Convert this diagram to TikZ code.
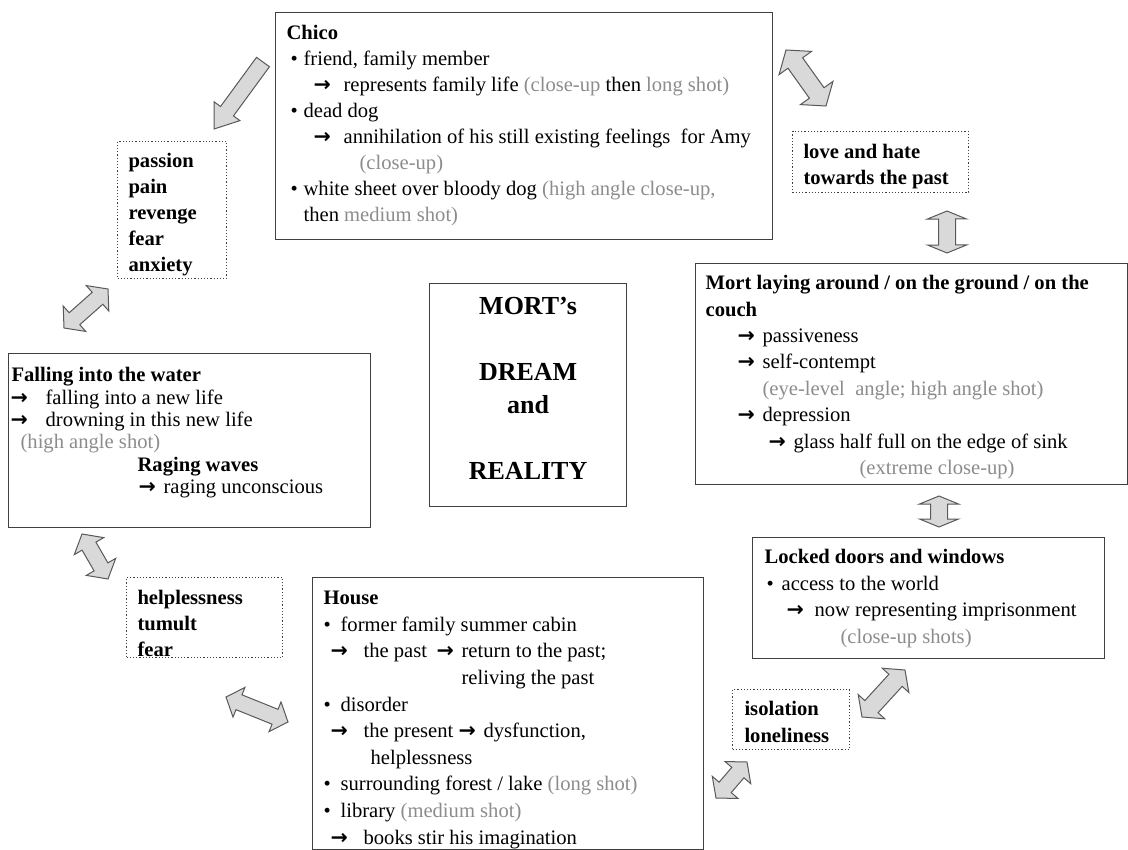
\documentclass[tikz,border=0pt]{standalone}
\usepackage{fontspec}
\setmainfont{Liberation Serif}
\newfontfamily\arrowfont{DejaVu Sans}
\usepackage{tikz}
\usetikzlibrary{calc}

\definecolor{shotgray}{gray}{0.55}
\newcommand\shot[1]{\textcolor{shotgray}{#1}}
\newcommand\rarr[1][12.5pt]{\makebox[#1][l]{\arrowfont\bfseries →}}
\newcommand\itm[1][6.5pt]{\makebox[#1][l]{•}}
\newcommand\txtrow[2]{\par\noindent\hspace*{#1}\strut\mbox{#2}}
% width, height, first baseline, font, rows
\newcommand\boxtext[5]{\begin{minipage}[t][#2][t]{#1}\parskip=0pt#4%
  \vspace*{\dimexpr#3-0.7\baselineskip\relax}#5\end{minipage}}
% block arrows: from, to, head length, head half width, shaft half width (pt)
\newcommand\dblarrow[5]{%
  \draw[blkarrow] let \p1=(#1), \p2=(#2),
    \n1={atan2(\y2-\y1,\x2-\x1)}, \n2={veclen(\x2-\x1,\y2-\y1)},
    \n3={atan(#4/#3)}, \n4={veclen(#3,#4)} in
    (\p1) -- ++({\n1+\n3}:{\n4*1pt}) -- ++({\n1-90}:{(#4-#5)*1pt})
    -- ++({\n1}:{(\n2-2*#3)*1pt}) -- ++({\n1+90}:{(#4-#5)*1pt})
    -- (\p2) -- ++({\n1+180+\n3}:{\n4*1pt}) -- ++({\n1+90}:{(#4-#5)*1pt})
    -- ++({\n1+180}:{(\n2-2*#3)*1pt}) -- ++({\n1-90}:{(#4-#5)*1pt}) -- cycle;}
\newcommand\sglarrow[5]{%
  \draw[blkarrow] let \p1=(#1), \p2=(#2),
    \n1={atan2(\y2-\y1,\x2-\x1)}, \n2={veclen(\x2-\x1,\y2-\y1)},
    \n3={atan(#4/#3)}, \n4={veclen(#3,#4)} in
    (\p1) ++({\n1+90}:{#5*1pt}) -- ++({\n1}:{(\n2-#3)*1pt})
    -- ++({\n1+90}:{(#4-#5)*1pt}) -- (\p2)
    -- ++({\n1+180+\n3}:{\n4*1pt}) -- ++({\n1+90}:{(#4-#5)*1pt})
    -- ++({\n1+180}:{(\n2-#3)*1pt}) -- cycle;}

\begin{document}
\begin{tikzpicture}[x=0.5pt,y=-0.5pt]
\tikzstyle{box}=[draw=black!75, line width=0.6pt, inner sep=0pt, anchor=north west]
\tikzstyle{dotbox}=[box, densely dotted, line width=0.5pt]
\tikzstyle{blkarrow}=[draw=black!65, fill=black!15, line width=0.5pt]
\useasboundingbox (0,0) rectangle (1128,850);

% centre
\node[box] (title) at (429,283) {\boxtext{98.5pt}{111.5pt}{15.5pt}{\fontsize{13}{16.5}\selectfont\bfseries\centering}{%
  \txtrow{0pt}{MORT’s}
  \txtrow{0pt}{}
  \txtrow{0pt}{DREAM}
  \txtrow{0pt}{and}
  \txtrow{0pt}{}
  \txtrow{0pt}{REALITY}}};

% dream side
\node[box] (chico) at (275,12) {\boxtext{248.5pt}{113.5pt}{13.5pt}{\fontsize{10.3}{13}\selectfont}{%
  \txtrow{5.5pt}{\textbf{Chico}}
  \txtrow{7.5pt}{\itm friend, family member}
  \txtrow{19pt}{\rarr[15pt]represents family life \shot{(close-up} then \shot{long shot)}}
  \txtrow{7.5pt}{\itm dead dog}
  \txtrow{19pt}{\rarr[15pt]annihilation of his still existing feelings\ \ for Amy}
  \txtrow{42pt}{\shot{(close-up)}}
  \txtrow{7.5pt}{\itm white sheet over bloody dog \shot{(high angle close-up,}}
  \txtrow{14pt}{then \shot{medium shot)}}}};
\node[dotbox] (passion) at (117,141) {\boxtext{54.5pt}{68.5pt}{13pt}{\fontsize{10.3}{13}\selectfont\bfseries}{%
  \txtrow{5.5pt}{passion}
  \txtrow{5.5pt}{pain}
  \txtrow{5.5pt}{revenge}
  \txtrow{5.5pt}{fear}
  \txtrow{5.5pt}{anxiety}}};
\node[box] (falling) at (8,353) {\boxtext{181pt}{87pt}{14pt}{\fontsize{10.3}{11.2}\selectfont}{%
  \txtrow{1.5pt}{\textbf{Falling into the water}}
  \txtrow{1pt}{\rarr[17.5pt]falling into a new life}
  \txtrow{1pt}{\rarr[17.5pt]drowning in this new life}
  \txtrow{6pt}{\shot{(high angle shot)}}
  \txtrow{64.5pt}{\textbf{Raging waves}}
  \txtrow{65pt}{\rarr raging unconscious}}};
\node[dotbox] (helpless) at (126,577) {\boxtext{78pt}{40pt}{13.5pt}{\fontsize{10.3}{13}\selectfont\bfseries}{%
  \txtrow{5.5pt}{helplessness}
  \txtrow{5.5pt}{tumult}
  \txtrow{5.5pt}{fear}}};

% reality side
\node[box] (house) at (312,577) {\boxtext{195.5pt}{136pt}{13.5pt}{\fontsize{10.3}{13.3}\selectfont}{%
  \txtrow{5.5pt}{\textbf{House}}
  \txtrow{5.5pt}{\itm[8.5pt]former family summer cabin}
  \txtrow{9pt}{\makebox[53pt][l]{\rarr[16.5pt]the past}\rarr return to the past;}
  \txtrow{74.5pt}{reliving the past}
  \txtrow{5.5pt}{\itm[8.5pt]disorder}
  \txtrow{9pt}{\rarr[16.5pt]the present \rarr dysfunction,}
  \txtrow{29pt}{helplessness}
  \txtrow{5.5pt}{\itm[8.5pt]surrounding forest / lake \shot{(long shot)}}
  \txtrow{5.5pt}{\itm[8.5pt]library \shot{(medium shot)}}
  \txtrow{9pt}{\rarr[16.5pt]books stir his imagination}}};
\node[dotbox] (love) at (792,131) {\boxtext{88pt}{30.5pt}{13.5pt}{\fontsize{10.3}{13}\selectfont\bfseries}{%
  \txtrow{5.5pt}{love and hate}
  \txtrow{5.5pt}{towards the past}}};
\node[box] (mort) at (695,263) {\boxtext{216pt}{110.5pt}{13pt}{\fontsize{10.3}{13.2}\selectfont}{%
  \txtrow{5pt}{\textbf{Mort laying around / on the ground / on the}}
  \txtrow{5pt}{\textbf{couch}}
  \txtrow{21pt}{\rarr passiveness}
  \txtrow{21pt}{\rarr self-contempt}
  \txtrow{33.5pt}{\shot{(eye-level\ \ angle; high angle shot)}}
  \txtrow{21pt}{\rarr depression}
  \txtrow{36.5pt}{\rarr glass half full on the edge of sink}
  \txtrow{82pt}{\shot{(extreme close-up)}}}};
\node[box] (locked) at (752,537) {\boxtext{176pt}{60.5pt}{13pt}{\fontsize{10.3}{13.3}\selectfont}{%
  \txtrow{6pt}{\textbf{Locked doors and windows}}
  \txtrow{7pt}{\itm[7.5pt]access to the world}
  \txtrow{17pt}{\rarr[14pt]now representing imprisonment}
  \txtrow{44pt}{\shot{(close-up shots)}}}};
\node[dotbox] (isolation) at (732,689) {\boxtext{58.5pt}{30pt}{13pt}{\fontsize{10.3}{13.5}\selectfont\bfseries}{%
  \txtrow{6pt}{isolation}
  \txtrow{6pt}{loneliness}}};

% arrow ends
\coordinate (chicoOut) at (263,62);
\coordinate (passionIn) at (214,129);
\coordinate (chicoR) at (786,50);
\coordinate (loveT) at (826,106);
\coordinate (loveB) at (947,211);
\coordinate (mortT) at (947,253);
\coordinate (mortB) at (939,496);
\coordinate (lockedT) at (939,527);
\coordinate (lockedB) at (905,670);
\coordinate (isoR) at (862,717);
\coordinate (isoB) at (747,762);
\coordinate (houseR) at (716,798);
\coordinate (helpR) at (226,697);
\coordinate (houseL) at (288,722);
\coordinate (fallB) at (82,534);
\coordinate (helpT) at (108,579);
\coordinate (passionB) at (108,289);
\coordinate (fallT) at (64,328);

\sglarrow{chicoOut}{passionIn}{11}{8}{4}
\dblarrow{chicoR}{loveT}{8}{10}{4.5}
\dblarrow{loveB}{mortT}{4}{9.75}{4.25}
\dblarrow{mortB}{lockedT}{4}{9.75}{4.25}
\dblarrow{lockedB}{isoR}{7}{9}{4.5}
\dblarrow{isoB}{houseR}{7}{8.5}{4}
\dblarrow{helpR}{houseL}{7}{8}{4}
\dblarrow{fallB}{helpT}{7}{8.5}{4}
\dblarrow{passionB}{fallT}{7}{8.5}{4}
\end{tikzpicture}
\end{document}
